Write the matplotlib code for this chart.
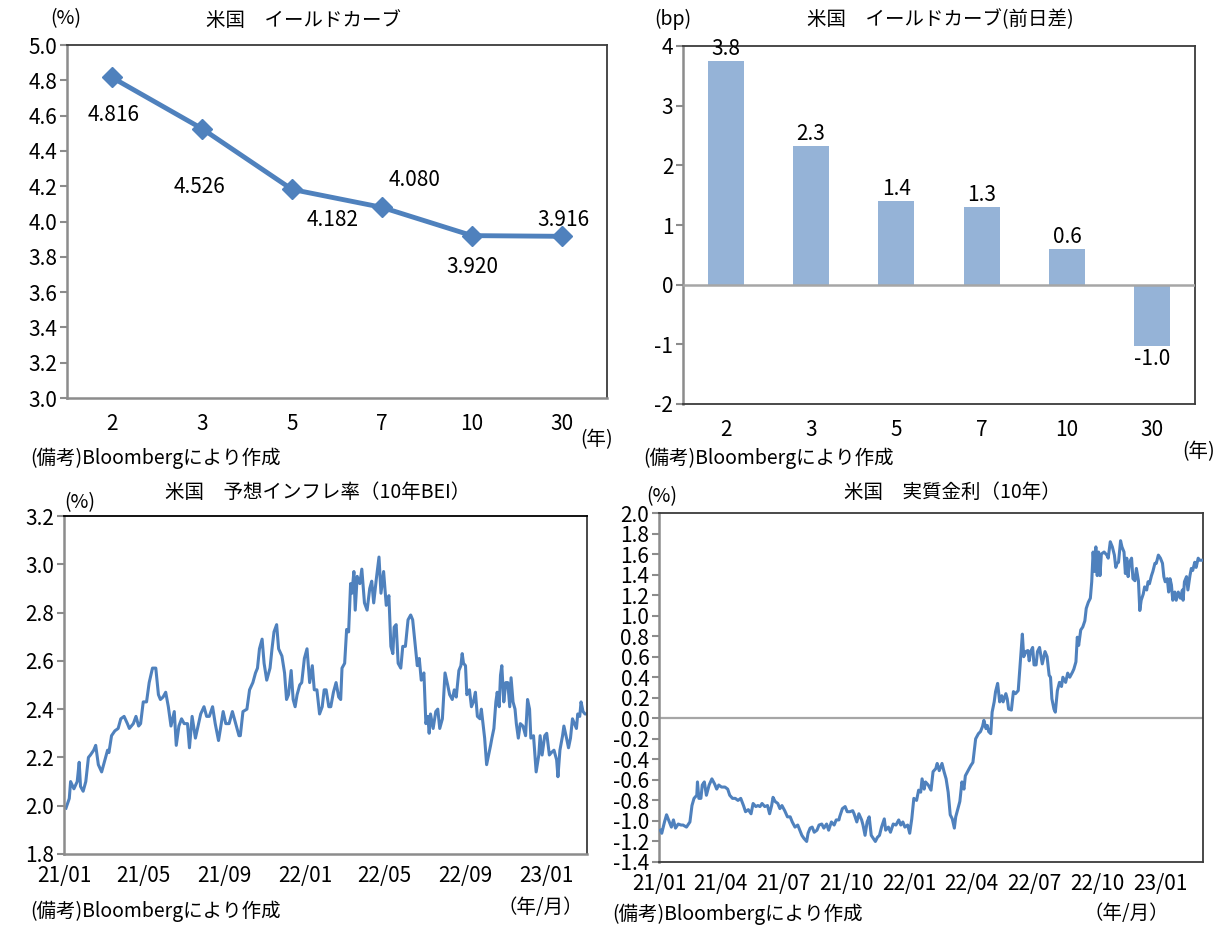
import numpy as np
import pandas as pd
import matplotlib
matplotlib.use('Agg')
import matplotlib.pyplot as plt
import matplotlib.dates as mdates

plt.rcParams['font.family'] = ['Noto Sans CJK JP', 'DejaVu Sans']
plt.rcParams['axes.unicode_minus'] = False

# ---------------- data ----------------
maturities = ['2', '3', '5', '7', '10', '30']
yields = [4.816, 4.526, 4.182, 4.080, 3.920, 3.916]
yield_changes = [3.75, 2.33, 1.41, 1.31, 0.60, -1.02]

base_date = '2021-01-01'
end_date = '2023-03-04'

# 10y BEI: days since 2021-01-01 and values (%)
bei_days = [3, 8, 10, 15, 20, 23, 25, 29, 33, 37, 40, 45, 48, 52, 57, 61, 66, 68, 72, 77,
            82, 86, 91, 96, 99, 105, 109, 113, 116, 120, 125, 129, 134, 139, 143, 146, 150, 154, 158, 162,
            167, 170, 174, 178, 182, 187, 190, 194, 199, 203, 207, 212, 216, 220, 225, 229, 234, 237, 241, 245,
            250, 255, 260, 265,
            267, 271, 277, 281, 286, 290, 293, 296, 300, 303, 307, 312, 315, 318, 322, 325, 330, 334, 337, 340,
            344, 347, 350, 353, 357, 360, 364, 368, 372, 376, 379, 383, 387, 391, 394, 397, 401, 404, 408, 412,
            416, 419, 421, 425, 428, 431, 434, 436, 439, 441, 444, 448, 451, 455, 459, 463, 466, 469, 473, 477,
            480, 484, 488, 492, 495, 498, 500, 503, 506, 510, 513, 517, 521, 525, 528, 531,
            535, 538, 541, 545, 548, 551, 553, 555, 559, 563, 566, 569, 573, 577, 581, 584, 588, 591, 594, 598,
            601, 603, 605, 608, 610, 614, 617, 620, 623, 626, 630, 632, 635, 637, 640, 643, 646, 648, 651, 654,
            656, 659, 661, 663, 666, 669, 672, 675, 677, 680, 683, 685, 688, 691, 695, 699, 702, 705, 707, 711,
            715, 719, 721, 724, 728, 731, 735, 738, 742, 746, 748, 751, 755, 757, 761, 764, 767, 770, 773, 776,
            778, 781, 783, 786, 789, 792]
bei_values = [1.99, 2.03, 2.10, 2.07, 2.10, 2.18, 2.08, 2.06, 2.10, 2.20, 2.21, 2.23, 2.25, 2.17, 2.14, 2.18, 2.23, 2.22, 2.29, 2.31,
              2.32, 2.36, 2.37, 2.34, 2.32, 2.34, 2.37, 2.33, 2.34, 2.43, 2.43, 2.51, 2.57, 2.57, 2.46, 2.44, 2.45, 2.47, 2.41, 2.33,
              2.39, 2.25, 2.33, 2.36, 2.34, 2.34, 2.24, 2.37, 2.28, 2.33, 2.38, 2.41, 2.37, 2.37, 2.41, 2.34, 2.27, 2.32, 2.39, 2.34,
              2.34, 2.39, 2.34, 2.29,
              2.29, 2.39, 2.40, 2.48, 2.51, 2.55, 2.57, 2.65, 2.69, 2.59, 2.52, 2.57, 2.65, 2.72, 2.75, 2.65, 2.62, 2.55, 2.44, 2.46,
              2.56, 2.44, 2.41, 2.46, 2.50, 2.51, 2.61, 2.65, 2.51, 2.58, 2.48, 2.48, 2.38, 2.41, 2.48, 2.48, 2.41, 2.41, 2.47, 2.51,
              2.45, 2.44, 2.57, 2.59, 2.73, 2.72, 2.92, 2.88, 2.97, 2.81, 2.95, 2.92, 2.98, 2.84, 2.81, 2.90, 2.93, 2.84, 2.94, 3.03,
              2.88, 2.97, 2.83, 2.87, 2.66, 2.63, 2.74, 2.75, 2.59, 2.57, 2.66, 2.66, 2.77, 2.79, 2.77, 2.69,
              2.58, 2.61, 2.52, 2.55, 2.34, 2.37, 2.30, 2.38, 2.32, 2.39, 2.40, 2.32, 2.36, 2.55, 2.50, 2.46, 2.44, 2.48, 2.45, 2.56,
              2.58, 2.63, 2.59, 2.58, 2.46, 2.48, 2.41, 2.43, 2.47, 2.37, 2.36, 2.40, 2.33, 2.28, 2.17, 2.21, 2.25, 2.28, 2.32, 2.43,
              2.47, 2.41, 2.54, 2.58, 2.43, 2.51, 2.51, 2.41, 2.53, 2.43, 2.40, 2.34, 2.28, 2.34, 2.33, 2.29, 2.44, 2.40, 2.28, 2.29,
              2.14, 2.21, 2.29, 2.21, 2.29, 2.30, 2.21, 2.22, 2.23, 2.19, 2.12, 2.23, 2.29, 2.33, 2.28, 2.24, 2.28, 2.36, 2.34, 2.32,
              2.38, 2.37, 2.43, 2.39, 2.38, 2.38]

# 10y real rate: days since 2021-01-01 and values (%)
real_days = [2, 4, 8, 11, 15, 18, 21, 24, 28, 32, 35, 40, 45, 48, 51, 55, 56, 58, 61, 63,
             66, 69, 73, 77, 81, 84, 87, 91, 96, 100, 103, 107, 111, 115, 119, 123, 126, 130, 134, 137,
             141, 144, 147, 150, 154, 158, 161, 164, 166, 169, 173, 176, 179, 183, 187, 191, 194, 198, 202, 205,
             208, 211, 215, 217, 220, 223, 226, 230, 233, 237, 240, 244, 247, 251, 255, 258, 262,
             263, 267, 271, 274, 278, 282, 284, 288, 291, 295, 297, 300, 303, 306, 309, 312, 315, 318, 321, 324,
             328, 330, 334, 337, 341, 345, 349, 352, 355, 358, 362, 365, 368, 371, 375, 378, 381, 383, 386, 388,
             392, 396, 399, 403, 405, 408, 412, 415, 418, 421, 424, 427, 430, 432, 434, 438, 441, 444, 446, 450,
             454, 457, 461, 465, 468, 471, 473, 476, 478, 480, 483, 485, 488, 490, 493, 496, 499, 501, 505, 507,
             509, 513, 516, 519, 523,
             526, 529, 531, 534, 537, 539, 541, 544, 546, 549, 551, 554, 556, 558, 562, 565, 568, 570, 572, 575,
             577, 580, 583, 586, 588, 592, 595, 598, 602, 604, 607, 609, 611, 614, 617, 620, 622, 625, 628, 630,
             632, 634, 636, 638, 640, 642, 644, 648, 652, 654, 657, 660, 663, 665, 667, 669, 672, 674, 677, 679,
             681, 683, 685, 688, 690, 693, 695, 698, 700, 702, 705, 707, 710, 712, 714, 717, 719, 722, 724, 727,
             730, 733, 735, 737, 740, 742, 744, 746, 748, 751, 753, 756, 759, 762, 763, 765, 768, 770, 773, 775,
             777, 780, 782, 785, 787, 790]
real_values = [-1.09, -1.12, -1.01, -0.94, -1.01, -1.06, -0.99, -1.07, -1.03, -1.04, -1.04, -1.06, -1.01, -0.85, -0.78, -0.75, -0.62, -0.78, -0.78, -0.65,
               -0.62, -0.75, -0.65, -0.59, -0.64, -0.69, -0.65, -0.67, -0.67, -0.69, -0.75, -0.78, -0.78, -0.80, -0.78, -0.85, -0.91, -0.89, -0.93, -0.83,
               -0.86, -0.85, -0.86, -0.83, -0.86, -0.85, -0.93, -0.85, -0.77, -0.81, -0.83, -0.88, -0.85, -0.90, -0.96, -0.96, -1.01, -1.06, -1.04, -1.09,
               -1.14, -1.17, -1.20, -1.12, -1.07, -1.06, -1.11, -1.09, -1.04, -1.03, -1.07, -1.03, -1.09, -1.01, -1.04, -0.99, -0.99,
               -0.96, -0.88, -0.86, -0.91, -0.91, -0.90, -0.93, -1.01, -0.93, -0.99, -1.04, -1.14, -1.01, -0.96, -1.14, -1.17, -1.20, -1.16, -1.14, -1.06,
               -0.98, -1.09, -1.06, -1.11, -1.03, -1.04, -0.99, -1.04, -1.01, -1.06, -1.04, -1.12, -0.98, -0.78, -0.80, -0.70, -0.72, -0.59, -0.69, -0.62,
               -0.65, -0.70, -0.52, -0.49, -0.44, -0.51, -0.44, -0.52, -0.59, -0.72, -0.94, -0.98, -1.07, -0.96, -0.91, -0.81, -0.62, -0.69, -0.56, -0.51,
               -0.46, -0.43, -0.20, -0.15, -0.13, -0.08, -0.02, -0.10, -0.07, -0.13, -0.15, 0.06, 0.16, 0.26, 0.34, 0.16, 0.22, 0.16, 0.24, 0.19,
               0.09, 0.08, 0.26, 0.24, 0.27,
               0.55, 0.82, 0.60, 0.65, 0.66, 0.56, 0.65, 0.69, 0.52, 0.52, 0.65, 0.69, 0.61, 0.53, 0.65, 0.60, 0.42, 0.40, 0.19, 0.09,
               0.06, 0.27, 0.35, 0.31, 0.40, 0.35, 0.44, 0.40, 0.45, 0.48, 0.55, 0.79, 0.71, 0.86, 0.89, 0.95, 1.07, 1.13, 1.17, 1.33,
               1.62, 1.43, 1.67, 1.39, 1.62, 1.39, 1.60, 1.62, 1.59, 1.56, 1.72, 1.67, 1.59, 1.47, 1.51, 1.52, 1.73, 1.67, 1.62, 1.41,
               1.56, 1.38, 1.52, 1.56, 1.36, 1.34, 1.46, 1.34, 1.05, 1.15, 1.21, 1.28, 1.25, 1.33, 1.31, 1.39, 1.43, 1.51, 1.51, 1.59,
               1.56, 1.51, 1.38, 1.33, 1.36, 1.23, 1.36, 1.30, 1.15, 1.23, 1.15, 1.23, 1.17, 1.25, 1.15, 1.33, 1.38, 1.25, 1.39, 1.46,
               1.44, 1.52, 1.47, 1.56, 1.54, 1.54]

titles = ['米国　イールドカーブ', '米国　イールドカーブ(前日差)',
          '米国　予想インフレ率（10年BEI）', '米国　実質金利（10年）']
source_note = '(備考)Bloombergにより作成'

# ---------------- style ----------------
W, H = 1227, 927
FS = 14      # Japanese text
NFS = 15     # numbers
LINE_C = '#4F81BD'
BAR_C = '#95B3D7'
AX_C = '#8c8c8c'
BORDER_C = '#3c3c3c'

fig = plt.figure(figsize=(W / 100, H / 100), dpi=100)


def box(l, t, r, b):
    return [l / W, 1 - b / H, (r - l) / W, (b - t) / H]


def ftext(x, y, s, ha='left', va='center', size=FS):
    fig.text(x / W, 1 - y / H, s, ha=ha, va=va, fontsize=size)


def style_axes(ax):
    for side in ['left', 'bottom']:
        ax.spines[side].set_color(AX_C)
        ax.spines[side].set_linewidth(1.8)
    for side in ['top', 'right']:
        ax.spines[side].set_color(BORDER_C)
        ax.spines[side].set_linewidth(1.3)
    ax.tick_params(axis='y', direction='out', length=5, width=1.5, color=AX_C,
                   labelsize=NFS, pad=2)
    ax.tick_params(axis='x', length=0, labelsize=NFS, pad=8)


# ---- top-left: yield curve ----
ax1 = fig.add_axes(box(67, 45, 607, 398))
x_cat = np.arange(len(maturities))
ax1.plot(x_cat, yields, color=LINE_C, lw=3.5, marker='D', ms=10, zorder=3)
ax1.set_xlim(-0.5, len(maturities) - 0.5)
ax1.set_ylim(3.0, 5.0)
ax1.set_yticks(np.arange(3.0, 5.01, 0.2))
ax1.set_yticklabels([f'{v:.1f}' for v in np.arange(3.0, 5.01, 0.2)])
ax1.set_xticks(x_cat)
ax1.set_xticklabels(maturities)
style_axes(ax1)
ax1.tick_params(axis='x', pad=11)
label_offsets = [(2, -38), (-3, -58), (41, -31), (33, 27), (0, -31), (1, 16)]
for xi, v, (dx, dy) in zip(x_cat, yields, label_offsets):
    ax1.annotate(f'{v:.3f}', (xi, v), xytext=(dx, dy), textcoords='offset pixels',
                 ha='center', va='center', fontsize=NFS)

# ---- top-right: daily change ----
ax2 = fig.add_axes(box(683, 46, 1195, 404))
ax2.bar(x_cat, yield_changes, width=0.42, color=BAR_C, zorder=2)
ax2.axhline(0, color='#a6a6a6', lw=1.8, zorder=3)
ax2.set_xlim(-0.5, len(maturities) - 0.5)
ax2.set_ylim(-2, 4)
ax2.set_yticks(np.arange(-2, 5, 1))
ax2.set_yticklabels([str(v) for v in range(-2, 5)])
ax2.set_xticks(x_cat)
ax2.set_xticklabels(maturities)
style_axes(ax2)
ax2.spines['bottom'].set_color(BORDER_C)
ax2.spines['bottom'].set_linewidth(1.3)
ax2.tick_params(axis='x', pad=11)
for xi, v in zip(x_cat, yield_changes):
    ax2.annotate(f'{v:.1f}', (xi, v), xytext=(0, 12 if v >= 0 else -13),
                 textcoords='offset pixels', ha='center', va='center', fontsize=NFS)

# ---- bottom-left: BEI ----
start = pd.Timestamp(base_date)
bei_dates = start + pd.to_timedelta(bei_days, unit='D')
real_dates = start + pd.to_timedelta(real_days, unit='D')

ax3 = fig.add_axes(box(64, 516, 587, 854))
ax3.plot(bei_dates, bei_values, color=LINE_C, lw=2.2)
ax3.set_xlim(start, pd.Timestamp(end_date))
ax3.set_ylim(1.8, 3.2)
ax3.set_yticks(np.arange(1.8, 3.21, 0.2))
ax3.set_yticklabels([f'{v:.1f}' for v in np.arange(1.8, 3.21, 0.2)])
ax3.set_xticks(pd.date_range(base_date, '2023-01-01', freq='4MS'))
ax3.xaxis.set_major_formatter(mdates.DateFormatter('%y/%m'))
style_axes(ax3)
ax3.spines['top'].set_color('#000000')

# ---- bottom-right: real rate ----
ax4 = fig.add_axes(box(659, 513, 1203, 862))
ax4.plot(real_dates, real_values, color=LINE_C, lw=2.2, zorder=3)
ax4.axhline(0, color='#a6a6a6', lw=1.6, zorder=2)
ax4.set_xlim(start, pd.Timestamp(end_date))
ax4.set_ylim(-1.4, 2.0)
yt = np.round(np.arange(-1.4, 2.01, 0.2), 1)
ax4.set_yticks(yt)
ax4.set_yticklabels([f'{v:.1f}'.replace('-0.0', '0.0') for v in yt])
ax4.set_xticks(pd.date_range(base_date, '2023-01-01', freq='3MS'))
ax4.xaxis.set_major_formatter(mdates.DateFormatter('%y/%m'))
style_axes(ax4)
ax4.spines['bottom'].set_color(BORDER_C)
ax4.spines['bottom'].set_linewidth(1.3)

# ---- titles, units and notes ----
ftext(303, 20, titles[0], ha='center')
ftext(940, 20, titles[1], ha='center')
ftext(318, 492, titles[2], ha='center')
ftext(952, 492, titles[3], ha='center')

ftext(50, 19, '(%)')
ftext(654, 19, '(bp)')
ftext(64, 503, '(%)')
ftext(646, 497, '(%)')

ftext(30, 458, source_note)
ftext(643, 458, source_note)
ftext(30, 911, source_note)
ftext(612, 914, source_note)

ftext(580, 440, '(年)')
ftext(1182, 452, '(年)')
ftext(540, 908, '（年/月）', ha='center')
ftext(1126, 914, '（年/月）', ha='center')

fig.savefig('out.png', dpi=100)
